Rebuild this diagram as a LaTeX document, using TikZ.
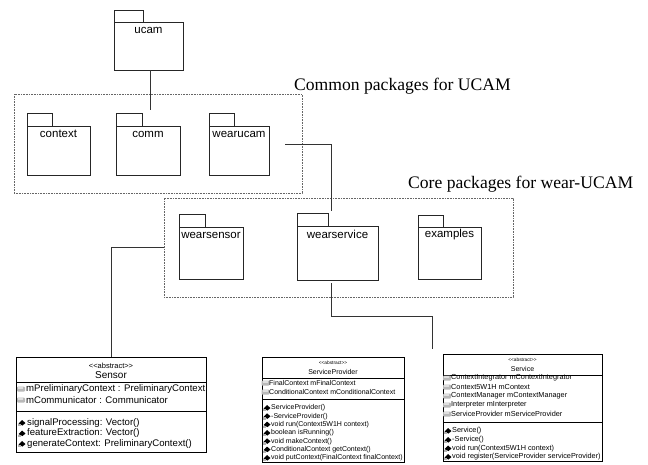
\documentclass[tikz,border=0pt]{standalone}
\usepackage{fontspec}
\setmainfont{Liberation Serif}
\setsansfont{Liberation Sans}
\usetikzlibrary{calc}
\tikzset{
  pkgbody/.style={draw=black!85, line width=0.8pt, fill=white, inner sep=0pt, outer sep=0pt},
  pkgline/.style={draw=black!85, line width=0.8pt},
  pkglabel/.style={font=\sffamily\fontsize{11.5}{12}\selectfont, inner sep=0pt, anchor=center},
  groupbox/.style={draw=black!60, line width=0.6pt, dash pattern=on 0.8pt off 0.8pt, inner sep=0pt, outer sep=0pt},
  grouptitle/.style={font=\rmfamily\fontsize{17.6}{20}\selectfont, inner sep=0pt, anchor=base west},
  conn/.style={draw=black!80, line width=0.9pt},
  classbox/.style={draw=black, line width=0.8pt, inner sep=0pt, outer sep=0pt, anchor=north west},
  sepline/.style={draw=black, line width=0.8pt},
  ctxt/.style={font=\sffamily\fontsize{#1}{#1}\selectfont, inner sep=0pt},
}
\newcommand\pkgdraw[8]{%
  \node[pkgbody, minimum width=#4pt, minimum height=#5pt, anchor=north west] (#1) at (#2,#3) {};
  \draw[pkgline] (#1.north west) rectangle ++(#6,-#7);
  \node[pkglabel] (#1-l) at ($(#1.north)+(0,8)$) {#8};
}
\newcommand\attricon[2]{%
  \fill[gray!55, rounded corners=1pt] (#1-4,#2-2.5) rectangle (#1+4,#2+2.5);
  \fill[gray!25] (#1-3,#2-2) rectangle (#1+2,#2-0.5);
}
\newcommand\methicon[2]{%
  \fill[black] (#1-3.5,#2+0.5) -- (#1,#2-3) -- (#1+3.5,#2) -- (#1+0.5,#2+2.5) -- cycle;
  \fill[gray!60] (#1-4,#2+1) rectangle (#1-1.5,#2+3.2);
}
\begin{document}
\begin{tikzpicture}[x=1pt,y=-1pt]
\useasboundingbox (0,0) rectangle (648,464);
\fill[white] (0,0) rectangle (648,464);

% group boxes
\node[groupbox, minimum width=288pt, minimum height=99pt, anchor=north west] (common) at (14,94) {};
\node[groupbox, minimum width=349pt, minimum height=99pt, anchor=north west] (core) at (164,198) {};
\node[grouptitle] (commonT) at (294,90) {Common packages for UCAM};
\node[grouptitle] (coreT) at (408,188) {Core packages for wear-UCAM};

% packages
\pkgdraw{ucam}{114}{22}{69}{48}{29}{12}{ucam}
\pkgdraw{context}{27}{126}{63}{49}{25}{13}{context}
\pkgdraw{comm}{116}{126}{64}{49}{26}{13}{comm}
\pkgdraw{wearucam}{209}{126}{60}{49}{25}{13}{wearucam}
\pkgdraw{wearsensor}{179}{227}{64}{52}{26}{13}{wearsensor}
\pkgdraw{wearservice}{297}{226}{81}{54}{31}{13}{wearservice}
\pkgdraw{examples}{418}{227}{63}{52}{25}{12}{examples}

% ---------- Sensor ----------
\node[classbox, minimum width=190pt, minimum height=95pt] (sensor) at (16,357) {};
\draw[sepline] (16,382) -- (206,382);
\draw[sepline] (16,411) -- (206,411);
\node[ctxt=7.5] (s-st) at (111,366) {<{}<abstract>{}>};
\node[ctxt=10] (s-nm) at (111,375.5) {Sensor};
\attricon{21}{389}\attricon{21}{400}
\node[ctxt=9.6, anchor=west] (s-a1) at (26,389) {mPreliminaryContext : PreliminaryContext};
\node[ctxt=9.6, anchor=west] (s-a2) at (26,400) {mCommunicator : Communicator};
\methicon{22}{423}\methicon{22}{433.5}\methicon{22}{444}
\node[ctxt=9.6, anchor=west] (s-m1) at (27,423) {signalProcessing: Vector()};
\node[ctxt=9.6, anchor=west] (s-m2) at (27,433.5) {featureExtraction: Vector()};
\node[ctxt=9.6, anchor=west] (s-m3) at (27,444) {generateContext: PreliminaryContext()};

% ---------- ServiceProvider ----------
\node[classbox, minimum width=142pt, minimum height=105pt] (sp) at (262,357) {};
\draw[sepline] (262,378) -- (404,378);
\draw[sepline] (262,399) -- (404,399);
\node[ctxt=4.8] (sp-st) at (333,362.5) {<{}<abstract>{}>};
\node[ctxt=7] (sp-nm) at (333,371.5) {ServiceProvider};
\attricon{265.5}{383}\attricon{265.5}{392}
\node[ctxt=7, anchor=west] (sp-a1) at (269,383) {FinalContext mFinalContext};
\node[ctxt=7, anchor=west] (sp-a2) at (269,392) {ConditionalContext mConditionalContext};
\methicon{267}{408}\methicon{267}{416.3}\methicon{267}{424.6}\methicon{267}{433}\methicon{267}{441.3}\methicon{267}{449.6}\methicon{267}{458}
\node[ctxt=7, anchor=west] (sp-m1) at (271,408) {ServiceProvider()};
\node[ctxt=7, anchor=west] (sp-m2) at (271,416.3) {-ServiceProvider()};
\node[ctxt=7, anchor=west] (sp-m3) at (271,424.6) {void run(Context5W1H context)};
\node[ctxt=7, anchor=west] (sp-m4) at (271,433) {boolean isRunning()};
\node[ctxt=7, anchor=west] (sp-m5) at (271,441.3) {void makeContext()};
\node[ctxt=7, anchor=west] (sp-m6) at (271,449.6) {ConditionalContext getContext()};
\node[ctxt=7, anchor=west] (sp-m7) at (271,458) {void putContext(FinalContext finalContext)};

% ---------- Service ----------
\node[classbox, minimum width=159pt, minimum height=107pt] (svc) at (443,354) {};
\draw[sepline] (443,375) -- (602,375);
\draw[sepline] (443,422) -- (602,422);
\node[ctxt=4.8] (sv-st) at (522.5,360) {<{}<abstract>{}>};
\node[ctxt=7] (sv-nm) at (522.5,369) {Service};
\attricon{447}{378}\attricon{447}{387}\attricon{447}{396}\attricon{447}{405}\attricon{447}{414}
\node[ctxt=7.3, anchor=west] (sv-a1) at (451,378) {ContextIntegrator mContextIntegrator};
\node[ctxt=7.3, anchor=west] (sv-a2) at (451,387) {Context5W1H mContext};
\node[ctxt=7.3, anchor=west] (sv-a3) at (451,396) {ContextManager mContextManager};
\node[ctxt=7.3, anchor=west] (sv-a4) at (451,405) {Interpreter mInterpreter};
\node[ctxt=7.3, anchor=west] (sv-a5) at (451,414) {ServiceProvider mServiceProvider};
\methicon{448}{431}\methicon{448}{440}\methicon{448}{448.5}\methicon{448}{457}
\node[ctxt=7.3, anchor=west] (sv-m1) at (452,431) {Service()};
\node[ctxt=7.3, anchor=west] (sv-m2) at (452,440) {-Service()};
\node[ctxt=7.3, anchor=west] (sv-m3) at (452,448.5) {void run(Context5W1H context)};
\node[ctxt=7.3, anchor=west] (sv-m4) at (452,457) {void register(ServiceProvider serviceProvider)};

% ---------- connectors ----------
\coordinate (ucamEnd) at (150,110);
\draw[conn] (ucam.south -| ucamEnd) -- (ucamEnd);
\coordinate (wuStart) at (285,144);
\coordinate (wsTop) at (331,211);
\draw[conn] (wuStart) -| (wsTop);
\draw[conn] (core.west) -| (sensor.north);
\coordinate (wsvBot) at (331,283);
\coordinate (wsvBend) at (331,316);
\coordinate (svcEnd) at (432,349);
\draw[conn] (wsvBot) -- (wsvBend) -| (svcEnd);
\end{tikzpicture}
\end{document}
